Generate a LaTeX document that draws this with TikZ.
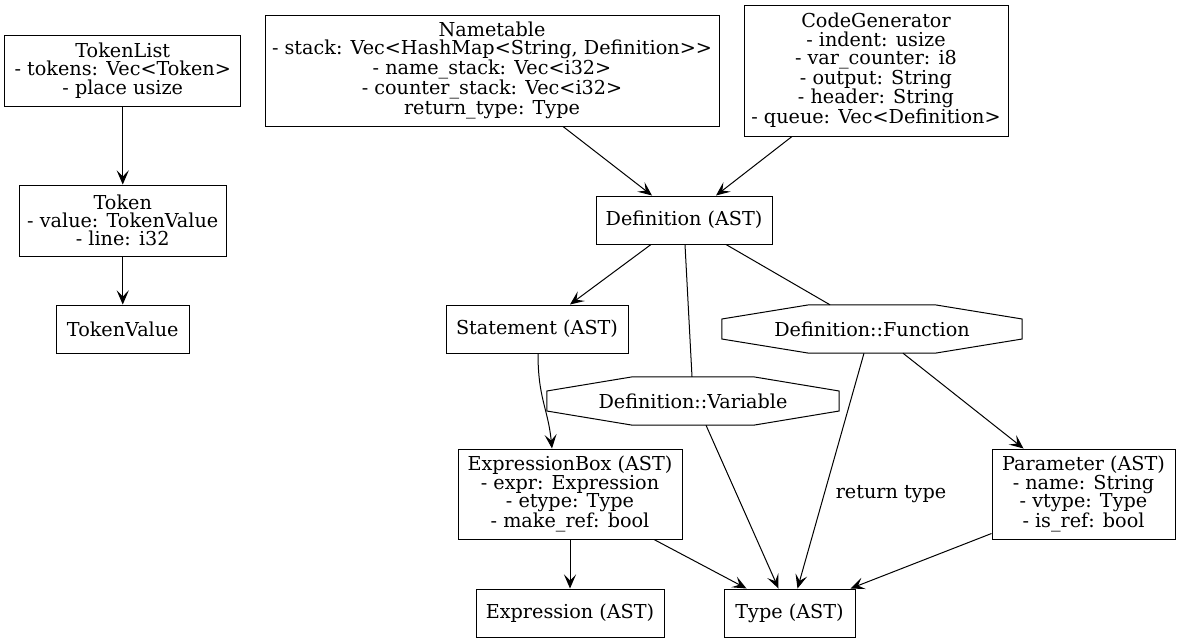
\documentclass[tikz,border=0pt]{standalone}
\usepackage{fontspec}
\setmainfont{DejaVu Serif}
\usetikzlibrary{arrows.meta}
\newcommand\octagonbox[2]{\draw[line width=1pt] ([xshift=-#2]#1.north) -- ([xshift=#2]#1.north) -- ([yshift=10pt]#1.east) -- ([yshift=-10pt]#1.east) -- ([xshift=#2]#1.south) -- ([xshift=-#2]#1.south) -- ([yshift=-10pt]#1.west) -- ([yshift=10pt]#1.west) -- cycle;}
\tikzset{
  box/.style={draw, line width=1pt, inner sep=0pt, align=center, font=\fontsize{19.2}{18.3}\selectfont},
  oct/.style={inner sep=0pt, align=center, font=\fontsize{19.2}{18.3}\selectfont},
  arrowline/.style={line width=1pt, arrows={-Stealth[length=14pt, width=12pt, inset=6pt]}},
  plain/.style={line width=1pt},
}
\begin{document}
\begin{tikzpicture}[x=1pt,y=-1pt]
\useasboundingbox (0,0) rectangle (1181,643);
\node[box, minimum width=236pt, minimum height=71pt] (tl) at (122.75,70.5) {TokenList\\- tokens: Vec<Token>\\- place usize};
\node[box, minimum width=207pt, minimum height=71pt] (tok) at (122.75,220.5) {Token\\- value: TokenValue\\- line: i32};
\node[box, minimum width=133pt, minimum height=48pt] (tv) at (122.75,329) {TokenValue};
\node[box, minimum width=454pt, minimum height=111pt] (nt) at (492,70.5) {Nametable\\- stack: Vec<HashMap<String, Definition>{}>\\- name\_stack: Vec<i32>\\- counter\_stack: Vec<i32>\\return\_type: Type};
\node[box, minimum width=264pt, minimum height=131pt] (cg) at (876,70.5) {CodeGenerator\\- indent: usize\\- var\_counter: i8\\- output: String\\- header: String\\- queue: Vec<Definition>};
\node[box, minimum width=176pt, minimum height=48pt] (def) at (684,220) {Definition (AST)};
\node[box, minimum width=182pt, minimum height=48pt] (st) at (537,329) {Statement (AST)};
\node[oct, minimum width=300pt, minimum height=48pt] (fn) at (872,329) {Definition::Function};
\octagonbox{fn}{63pt}
\node[oct, minimum width=292pt, minimum height=48pt] (var) at (693,401) {Definition::Variable};
\octagonbox{var}{60.5pt}
\node[box, minimum width=224pt, minimum height=90pt] (eb) at (570,494) {ExpressionBox (AST)\\- expr: Expression\\- etype: Type\\- make\_ref: bool};
\node[box, minimum width=188pt, minimum height=48pt] (ex) at (570,613) {Expression (AST)};
\node[box, minimum width=131pt, minimum height=48pt] (ty) at (789.5,613) {Type (AST)};
\node[box, minimum width=183pt, minimum height=90pt] (par) at (1083.5,494) {Parameter (AST)\\- name: String\\- vtype: Type\\- is\_ref: bool};
\node[oct] (rtl) at (891,494) {return type};

\draw[arrowline] (tl) -- (tok);
\draw[arrowline] (tok) -- (tv);
\draw[arrowline] ([xshift=71pt]nt.south) -- ([xshift=-32pt]def.north);
\draw[arrowline] ([xshift=-84pt]cg.south) -- ([xshift=32pt]def.north);
\draw[arrowline] ([xshift=-33pt]def.south) -- ([xshift=33pt]st.north);
\draw[plain] ([xshift=1pt]def.south) -- ([xshift=-1pt]var.north);
\draw[plain] ([xshift=42pt]def.south) -- ([xshift=-42pt]fn.north);
\draw[arrowline] ([xshift=1pt]st.south) .. controls ([xshift=1pt,yshift=-45pt]st.south) and ([xshift=-22pt,yshift=40pt]eb.north) .. ([xshift=-18pt]eb.north);
\draw[arrowline] ([xshift=13pt]var.south) -- ([xshift=-11pt]ty.north);
\draw[arrowline] ([xshift=-8pt]fn.south) -- ([xshift=8pt]ty.north);
\draw[arrowline] ([xshift=31pt]fn.south) -- ([xshift=-60pt]par.north);
\draw[arrowline] (eb) -- (ex);
\draw[arrowline] ([xshift=84pt]eb.south) -- ([xshift=-43pt]ty.north);
\draw[arrowline] ([yshift=6pt]par.south west) -- ([xshift=-5pt]ty.north east);
\end{tikzpicture}
\end{document}
